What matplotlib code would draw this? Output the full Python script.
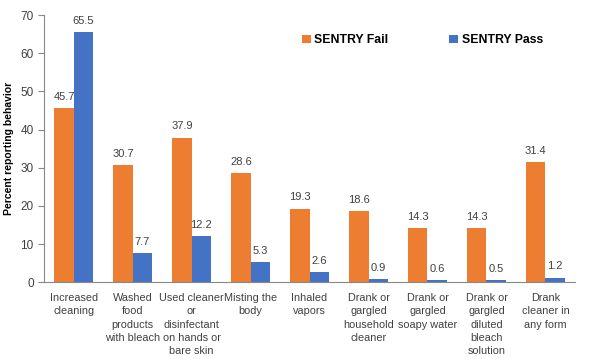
import numpy as np
import matplotlib.pyplot as plt

plt.rcParams['font.family'] = ['Liberation Sans', 'DejaVu Sans']

categories = ['Increased\ncleaning', 'Washed\nfood\nproducts\nwith bleach',
              'Used cleaner\nor\ndisinfectant\non hands or\nbare skin',
              'Misting the\nbody', 'Inhaled\nvapors',
              'Drank or\ngargled\nhousehold\ncleaner', 'Drank or\ngargled\nsoapy water',
              'Drank or\ngargled\ndiluted\nbleach\nsolution', 'Drank\ncleaner in\nany form']
fail = [45.7, 30.7, 37.9, 28.6, 19.3, 18.6, 14.3, 14.3, 31.4]
passed = [65.5, 7.7, 12.2, 5.3, 2.6, 0.9, 0.6, 0.5, 1.2]

orange = '#ED7D31'
blue = '#4472C4'
txt = '#404040'

fig = plt.figure(figsize=(5.97, 3.59), dpi=100)
ax = fig.add_axes([0.074, 0.214, 0.889, 0.744])

x = np.arange(len(categories))
w = 0.325
b1 = ax.bar(x - w / 2, fail, w, color=orange, label='SENTRY Fail')
b2 = ax.bar(x + w / 2, passed, w, color=blue, label='SENTRY Pass')

for bars in (b1, b2):
    for r in bars:
        ax.text(r.get_x() + r.get_width() / 2, r.get_height() + 1.6, f'{r.get_height():.1f}',
                ha='center', va='bottom', fontsize=8, color=txt)

ax.set_xlim(-0.5, len(categories) - 0.5)
ax.set_ylim(0, 70)
ax.set_yticks(range(0, 71, 10))
ax.set_xticks(x)
ax.set_xticklabels(categories, fontsize=7.8, color=txt, linespacing=1.4)
ax.tick_params(axis='x', length=0, pad=8)
ax.tick_params(axis='y', labelsize=8.5, colors=txt, length=4, color='#888888')
for s in ('top', 'right'):
    ax.spines[s].set_visible(False)
for s in ('left', 'bottom'):
    ax.spines[s].set_color('#888888')
ax.set_ylabel('Percent reporting behavior', fontsize=7.5, fontweight='bold', labelpad=5)

ax.legend(loc='upper left', bbox_to_anchor=(0.465, 0.97), ncol=2, frameon=False,
          prop={'size': 8.8, 'weight': 'bold'}, handlelength=0.7, handleheight=0.7,
          handletextpad=0.3, columnspacing=5.0)

fig.savefig('out.png', dpi=100)
